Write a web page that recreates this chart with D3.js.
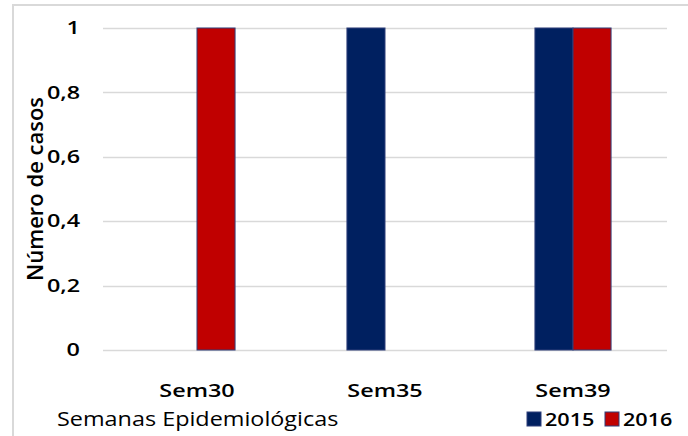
<!DOCTYPE html>
<html>
<head>
<meta charset="utf-8">
<script src="https://cdn.jsdelivr.net/npm/d3@7"></script>
<style>
  body { margin: 0; background: #fff; }
  text { font-family: "Open Sans", sans-serif; fill: #000; }
</style>
</head>
<body>
<div id="chart"></div>
<script>
//Data
var semanas = ["Sem30", "Sem35", "Sem39"];
var anos = ["2015", "2016"];
var casos2015 = [0, 1, 1];
var casos2016 = [1, 0, 1];
var yTicks = [0, 0.2, 0.4, 0.6, 0.8, 1];

//Width and height
var w = 688;
var h = 436;
var margin = {top: 28, right: 21, bottom: 86, left: 103};
var stretch = "scale(1.3,1)"; // the source picture's text is wide

var svg = d3.select("#chart")
            .append("svg")
            .attr("width", w)
            .attr("height", h);

//Outer border (chart area frame)
svg.append("path")
   .attr("d", "M13,436 V5 H688")
   .attr("fill", "none")
   .attr("stroke", "#d9d9d9")
   .attr("stroke-width", 2);

var x = d3.scaleBand()
          .domain(semanas)
          .range([margin.left, w - margin.right]);

var xInner = d3.scaleBand()
               .domain(anos)
               .range([0, x.bandwidth()])
               .paddingInner(0)
               .paddingOuter(1.47);

var y = d3.scaleLinear()
          .domain([0, 1])
          .range([h - margin.bottom, margin.top]);

var color = d3.scaleOrdinal()
              .domain(anos)
              .range(["#002060", "#c00000"]);

//Gridlines
svg.selectAll("line.grid")
   .data(yTicks)
   .enter()
   .append("line")
   .attr("class", "grid")
   .attr("x1", margin.left)
   .attr("x2", w - margin.right)
   .attr("y1", function(d) { return Math.round(y(d)) + 0.5; })
   .attr("y2", function(d) { return Math.round(y(d)) + 0.5; })
   .attr("stroke", "#d9d9d9")
   .attr("stroke-width", 1.5);

//Y axis labels
var yAxis = d3.axisLeft(y)
              .tickValues(yTicks)
              .tickSize(0)
              .tickPadding(0)
              .tickFormat(function(d) { return d3.format("")(d).replace(".", ","); });

var gy = svg.append("g")
            .attr("transform", "translate(80,0)")
            .call(yAxis);
gy.select(".domain").remove();
gy.selectAll("text")
  .attr("transform", stretch)
  .style("font-size", "18px")
  .style("font-weight", "600");

//Bars
var rows = semanas.map(function(s, i) {
  return {semana: s, values: [
    {ano: "2015", value: casos2015[i]},
    {ano: "2016", value: casos2016[i]}
  ]};
});

var groups = svg.selectAll("g.sem")
                .data(rows)
                .enter()
                .append("g")
                .attr("class", "sem")
                .attr("transform", function(d) { return "translate(" + x(d.semana) + ",0)"; });

groups.selectAll("rect")
      .data(function(d) { return d.values.filter(function(v) { return v.value > 0; }); })
      .enter()
      .append("rect")
      .attr("x", function(d) { return xInner(d.ano); })
      .attr("y", function(d) { return y(d.value); })
      .attr("width", xInner.bandwidth())
      .attr("height", function(d) { return y(0) - y(d.value); })
      .attr("fill", function(d) { return color(d.ano); })
      .attr("stroke", "#2f3f7a")
      .attr("stroke-width", 1);

//X axis labels
var xAxis = d3.axisBottom(x).tickSize(0).tickPadding(0);
var gx = svg.append("g")
            .attr("transform", "translate(0,397)")
            .call(xAxis);
gx.select(".domain").remove();
gx.selectAll("text")
  .attr("dy", "0")
  .attr("y", 0)
  .attr("transform", stretch)
  .style("font-size", "18px")
  .style("font-weight", "600");

//Axis titles
svg.append("text")
   .attr("transform", "translate(43,189) rotate(-90)")
   .attr("text-anchor", "middle")
   .style("font-size", "22px")
   .style("font-weight", "600")
   .text("Número de casos");

svg.append("text")
   .attr("transform", "translate(57,426) scale(1.17,1)")
   .style("font-size", "20px")
   .text("Semanas Epidemiológicas");

//Legend
var legend = svg.selectAll("g.legend")
                .data(anos)
                .enter()
                .append("g")
                .attr("class", "legend")
                .attr("transform", function(d, i) { return "translate(" + (527 + i * 78) + ",412)"; });

legend.append("rect")
      .attr("width", 14)
      .attr("height", 14)
      .attr("fill", function(d) { return color(d); })
      .attr("stroke", "#2f3f7a");

legend.append("text")
      .attr("transform", "translate(18,14) scale(1.2,1)")
      .style("font-size", "18px")
      .style("font-weight", "600")
      .text(function(d) { return d; });
</script>
</body>
</html>
